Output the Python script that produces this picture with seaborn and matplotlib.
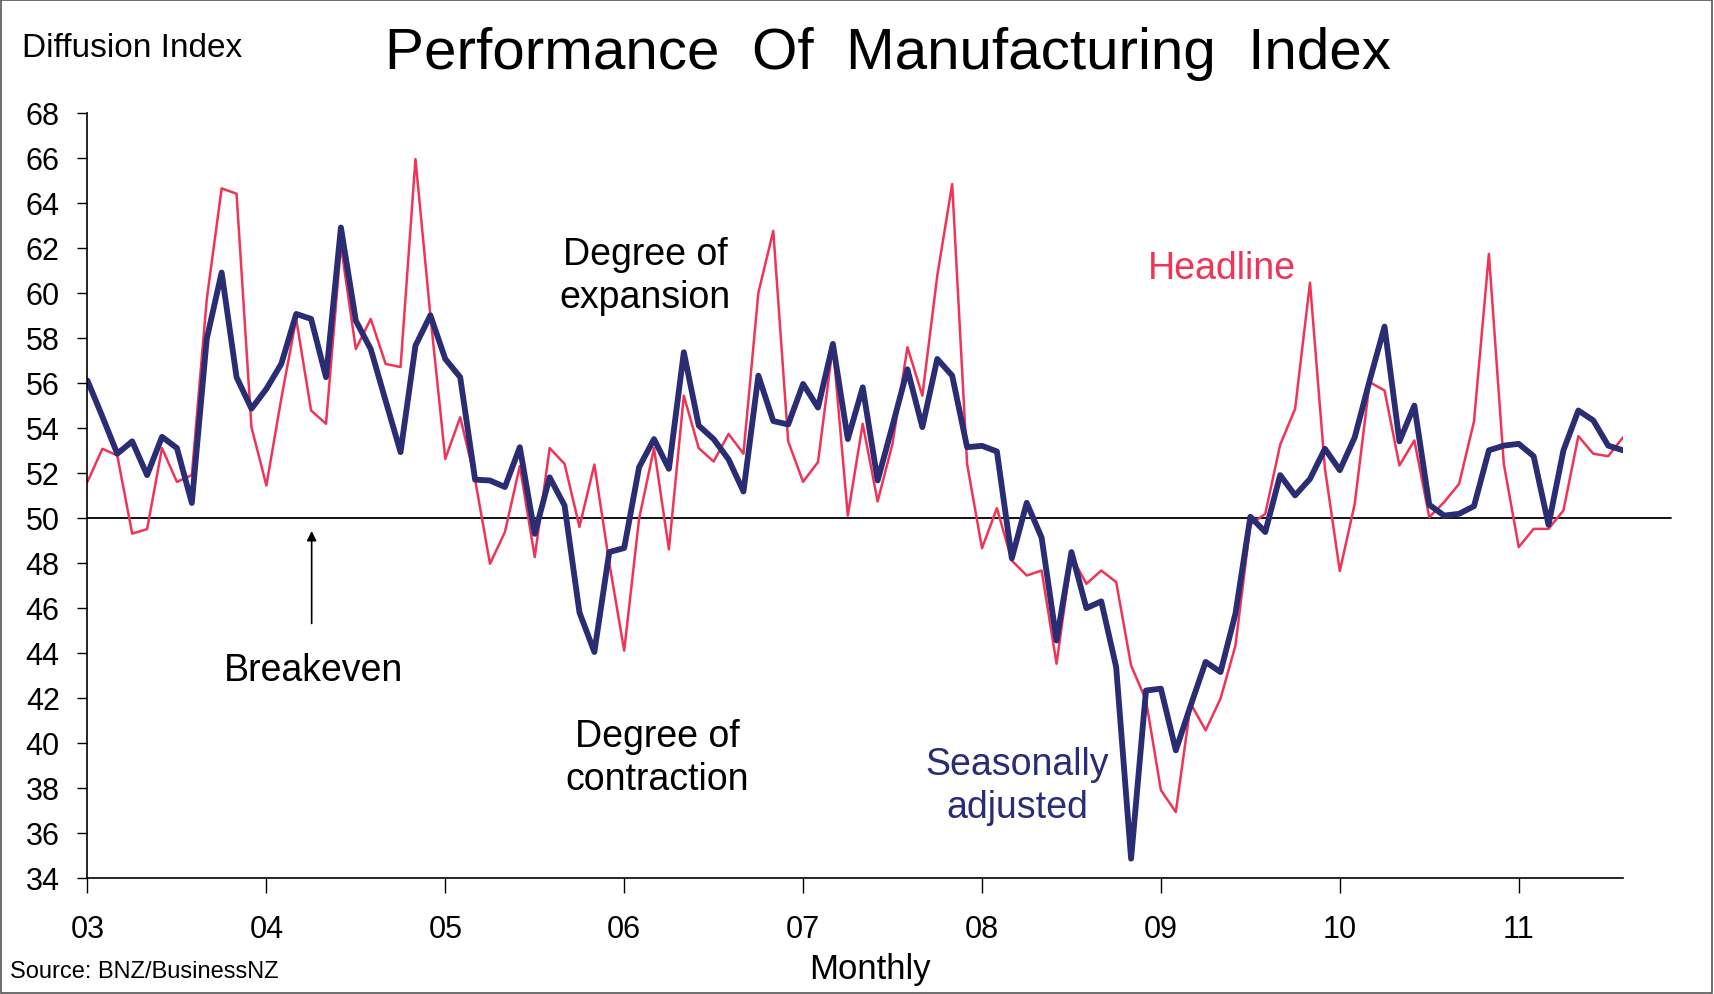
import numpy as np
import pandas as pd
import matplotlib
matplotlib.use("Agg")
import matplotlib.pyplot as plt
import seaborn as sns

# monthly index, Jan 2003 .. Aug 2011
seasonally_adjusted = [
    56.1, 54.5, 52.85, 53.4, 51.9, 53.6, 53.1, 50.66, 57.95, 60.9, 56.25, 54.85,
    55.73, 56.84, 59.06, 58.84, 56.25, 62.9, 58.76, 57.5, 55.2, 52.92, 57.65, 59.0,
    57.06, 56.25, 51.7, 51.66, 51.37, 53.14, 49.29, 51.8, 50.55, 45.8, 44.04, 48.48,
    48.66, 52.25, 53.5, 52.18, 57.36, 54.1, 53.5, 52.6, 51.17, 56.32, 54.3, 54.15,
    55.95, 54.9, 57.73, 53.5, 55.8, 51.66, 54.1, 56.6, 54.03, 57.06, 56.32, 53.14,
    53.2, 52.95, 48.2, 50.67, 49.12, 44.55, 48.48, 45.99, 46.29, 43.37, 34.86, 42.33,
    42.41, 39.67, 41.67, 43.6, 43.15, 45.74, 50.05, 49.37, 51.9, 51.0, 51.73, 53.07,
    52.12, 53.58, 56.1, 58.5, 53.4, 54.99, 50.58, 50.1, 50.18, 50.52, 53.0, 53.21,
    53.29, 52.74, 49.69, 53.0, 54.77, 54.33, 53.21, 53.0,
]
headline = [
    51.6, 53.07, 52.77, 49.3, 49.5, 53.1, 51.6, 51.9, 59.7, 64.64, 64.4, 54.03,
    51.44, 55.3, 58.84, 54.77, 54.18, 62.1, 57.5, 58.84, 56.84, 56.7, 65.94, 59.0,
    52.62, 54.47, 51.7, 47.96, 49.37, 52.3, 48.26, 53.1, 52.4, 49.6, 52.37, 48.0,
    44.1, 49.96, 53.1, 48.6, 55.43, 53.1, 52.5, 53.73, 52.85, 60.0, 62.75, 53.4,
    51.6, 52.48, 57.66, 50.1, 54.18, 50.73, 53.3, 57.58, 55.43, 60.76, 64.83, 52.4,
    48.65, 50.43, 48.1, 47.44, 47.66, 43.52, 48.3, 47.07, 47.66, 47.15, 43.44, 41.9,
    37.9, 36.93, 41.74, 40.56, 41.97, 44.33, 49.7, 50.18, 53.25, 54.84, 60.45, 52.2,
    47.64, 50.62, 56.03, 55.66, 52.33, 53.44, 50.03, 50.7, 51.51, 54.28, 61.73, 52.4,
    48.7, 49.51, 49.51, 50.33, 53.63, 52.85, 52.74, 53.58,
]
year_labels = ["03", "04", "05", "06", "07", "08", "09", "10", "11"]
y_ticks = list(range(34, 69, 2))

RED = "#EF3458"
NAVY = "#2A2C74"

df = pd.DataFrame({
    "month": np.arange(len(headline)),
    "Headline": headline,
    "Seasonally adjusted": seasonally_adjusted,
})

sns.set_style("white")
plt.rcParams["font.family"] = ["Liberation Sans", "DejaVu Sans"]
plt.rcParams["text.color"] = "black"
plt.rcParams["xtick.color"] = "black"
plt.rcParams["ytick.color"] = "black"

fig = plt.figure(figsize=(17.15, 9.95), dpi=100)
ax = fig.add_axes([0.051, 0.1166, 0.8954, 0.7691])

sns.lineplot(data=df, x="month", y="Headline", ax=ax, color=RED, linewidth=1.8)
sns.lineplot(data=df, x="month", y="Seasonally adjusted", ax=ax, color=NAVY,
             linewidth=4.2)

ax.axhline(50, xmin=0, xmax=1.031, color="black", linewidth=1.3, clip_on=False, zorder=1)

ax.set_xlim(0, len(headline) - 1)
ax.set_ylim(34, 68)
ax.set_yticks(y_ticks)
ax.set_xticks(np.arange(len(year_labels)) * 12)
ax.set_xticklabels(year_labels)
ax.set_xlabel("")
ax.set_ylabel("")
ax.tick_params(axis="y", direction="out", length=7, width=1, labelsize=22, pad=13,
               left=True, colors="black")
ax.tick_params(axis="x", direction="out", length=11, width=1, labelsize=22, pad=15,
               bottom=True, colors="black")
sns.despine(ax=ax)
for s in ["left", "bottom"]:
    ax.spines[s].set_color("black")
    ax.spines[s].set_linewidth(1.2)

# text
fig.text(0.518, 0.946, "Performance  Of  Manufacturing  Index", ha="center", va="center",
         fontsize=42)
fig.text(0.013, 0.951, "Diffusion Index", ha="left", va="center", fontsize=24)
fig.text(0.507, 0.026, "Monthly", ha="center", va="center", fontsize=25)
fig.text(0.006, 0.023, "Source: BNZ/BusinessNZ", ha="left", va="center", fontsize=17)

ax.text(0.363, 0.787, "Degree of\nexpansion", transform=ax.transAxes, ha="center",
        va="center", fontsize=27, linespacing=1.25)
ax.text(0.371, 0.158, "Degree of\ncontraction", transform=ax.transAxes, ha="center",
        va="center", fontsize=27, linespacing=1.25)
ax.text(0.7387, 0.797, "Headline", transform=ax.transAxes, ha="center", va="center",
        fontsize=27, color=RED)
ax.text(0.6055, 0.1215, "Seasonally\nadjusted", transform=ax.transAxes, ha="center",
        va="center", fontsize=27, color=NAVY, linespacing=1.25)
ax.text(0.1474, 0.2724, "Breakeven", transform=ax.transAxes, ha="center", va="center",
        fontsize=27)
ax.annotate("", xy=(0.146, 0.457), xytext=(0.146, 0.329), xycoords="axes fraction",
            arrowprops=dict(arrowstyle="-|>", color="black", lw=1.2, mutation_scale=14))

# thin frame around the figure
fig.patches.append(plt.Rectangle((0.0005, 0.001), 0.998, 0.998, transform=fig.transFigure,
                                 fill=False, edgecolor="#555555", linewidth=1.2))

fig.savefig("out.png", dpi=100)
